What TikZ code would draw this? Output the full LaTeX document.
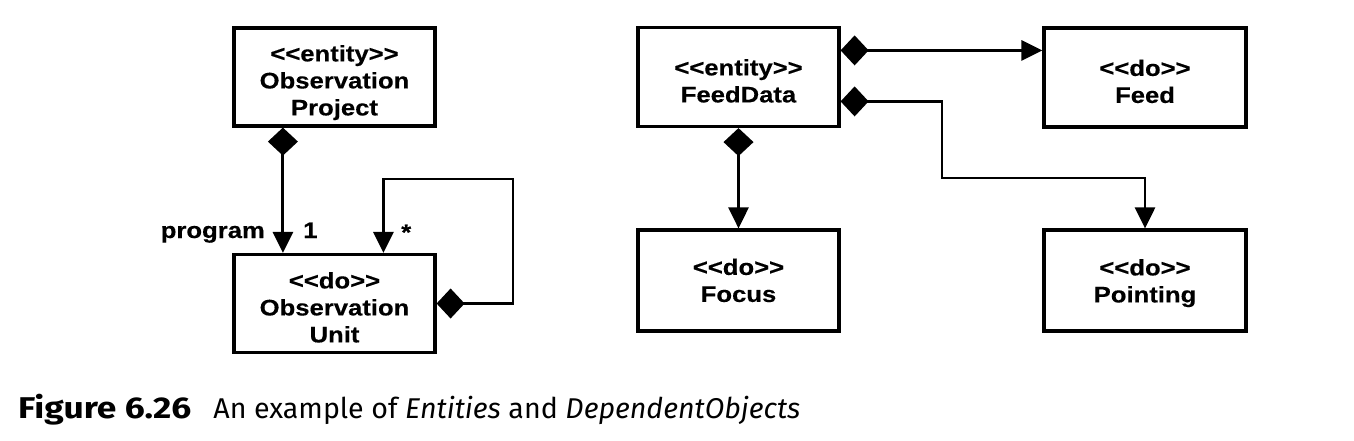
\documentclass[tikz,border=0pt]{standalone}
\usepackage{fontspec}
\usetikzlibrary{arrows.meta,calc}
\newfontfamily\diagfont[FakeStretch=1.14,FakeBold=0.3]{Liberation Sans}
\newfontfamily\capfont{Fira Sans}
\newcommand\boxtext[2]{\raisebox{#1}[\height][\depth]{\begin{tabular}{@{}c@{}}#2\end{tabular}}}
\tikzset{
  classbox/.style={draw, line width=3.2pt, fill=white, inner sep=0pt,
    minimum width=201pt, minimum height=99pt, align=center,
    font=\diagfont\bfseries\fontsize{22.5}{27}\selectfont},
  comp/.style={line width=2.9pt,
    {Diamond[length=28pt,width=30pt]}-{Triangle[length=21pt,width=20pt]}},
  lbl/.style={inner sep=0pt, font=\diagfont\bfseries\fontsize{22.5}{27}\selectfont}
}
\begin{document}
\begin{tikzpicture}[x=1pt,y=-1pt]
\useasboundingbox (0,0) rectangle (1354,440);
% boxes
\node[classbox, minimum height=98pt] (OP) at (334.5,77) {\boxtext{-6pt}{<<entity>>\\Observation\\Project}};
\node[classbox, minimum height=98pt] (OU) at (334.5,303.5) {\boxtext{-6.5pt}{<<do>>\\Observation\\Unit}};
\node[classbox] (FD) at (738.5,77) {\boxtext{-6.5pt}{<<entity>>\\FeedData}};
\node[classbox, minimum width=202pt] (Feed) at (1145,77.5) {\boxtext{-6.5pt}{<<do>>\\Feed}};
\node[classbox, minimum height=101pt] (Focus) at (738.5,280.5) {\boxtext{-2.5pt}{<<do>>\\Focus}};
\node[classbox, minimum width=202pt, minimum height=101pt] (Pointing) at (1145,280.5) {\boxtext{-3pt}{<<do>>\\Pointing}};
% coordinates
\coordinate (opA) at ([xshift=50.5pt]OP.south west);
\coordinate (ouA) at ([xshift=50.5pt]OU.north west);
\coordinate (ouB) at ([xshift=151pt]OU.north west);
\coordinate (loopc) at (513,179);
\coordinate (fdA) at ([yshift=-24.5pt]FD.north east);
\coordinate (fdB) at ([yshift=-75.5pt]FD.north east);
\coordinate (bend1) at (942,178);
% connectors
\draw[comp] (opA) -- (ouA);
\draw[comp] (OU.east) -| (loopc) -| (ouB);
\draw[comp] (fdA) -- (fdA -| Feed.west);
\draw[comp] (fdB) -| (bend1) -| (Pointing.north);
\draw[comp] (FD.south) -- (Focus.north);
% labels
\node[lbl, anchor=base east] (lprog) at (265,238) {program};
\node[lbl, anchor=base west] (lone) at (303,238) {1};
\node[lbl, anchor=base west] (lstar) at (401,240) {*};
% caption
\node[anchor=base west, inner sep=0pt, font=\capfont\fontsize{28.6}{34}\selectfont] (cap) at (18,418)
  {{\fontsize{30}{34}\selectfont\bfseries\addfontfeature{FakeStretch=1.18}Figure 6.26}\hspace{22pt}An example of \textit{Entities} and \textit{DependentObjects}};
\end{tikzpicture}
\end{document}
